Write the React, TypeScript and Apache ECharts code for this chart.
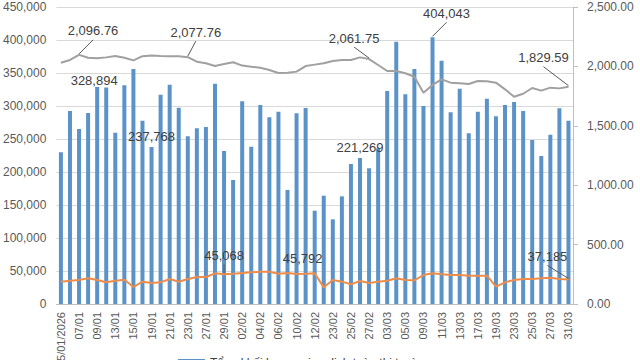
import React, { useEffect, useRef } from "react";
import * as echarts from "echarts";

const dates = [
  "05/01/2026", "06/01", "07/01", "08/01", "09/01", "12/01", "13/01", "14/01", "15/01", "16/01",
  "19/01", "20/01", "21/01", "22/01", "23/01", "26/01", "27/01", "28/01", "29/01", "30/01",
  "02/02", "03/02", "04/02", "05/02", "06/02", "09/02", "10/02", "11/02", "12/02", "13/02",
  "23/02", "24/02", "25/02", "26/02", "27/02", "02/03", "03/03", "04/03", "05/03", "06/03",
  "09/03", "10/03", "11/03", "12/03", "13/03", "16/03", "17/03", "18/03", "19/03", "20/03",
  "23/03", "24/03", "25/03", "26/03", "27/03", "30/03", "31/03",
];

const volume = [
  230000, 292400, 265200, 289400, 328894, 328000, 259600, 331300, 356000, 277800,
  237768, 317200, 332300, 297500, 254000, 266200, 268200, 333800, 231800, 187900,
  307100, 238400, 301500, 282800, 291400, 172700, 288900, 297000, 141400, 164100,
  128300, 163100, 212100, 221269, 205600, 235900, 322700, 397500, 317700, 356100,
  300000, 404043, 368700, 290400, 326300, 258600, 291400, 311100, 284300, 301500,
  306100, 292400, 248500, 224200, 256600, 296500, 277800,
];

const foreign = [
  33800, 35350, 36360, 38900, 36360, 32830, 35350, 36870, 25760, 33800,
  31800, 32830, 37880, 33800, 37880, 40900, 40900, 46450, 45068, 45960,
  46970, 47980, 49000, 49000, 45960, 46970, 45450, 45792, 46460, 25250,
  36360, 33840, 29800, 34850, 31820, 33840, 35350, 38890, 36360, 35860,
  43940, 46460, 44950, 43940, 43940, 42930, 42930, 42930, 26260, 32830,
  36360, 37880, 37880, 38890, 39900, 37880, 37185,
];

const vnIndex = [
  2031, 2054, 2096.76, 2073, 2068, 2076, 2088, 2073, 2051, 2086,
  2092, 2088, 2086, 2086, 2077.76, 2040, 2026, 2003, 2020, 2035,
  2007, 1998, 1989, 1970, 1945, 1947, 1956, 2003, 2015, 2026,
  2046, 2054, 2054, 2076, 2061.75, 2012, 1961, 1961, 1942, 1913,
  1779, 1844, 1891, 1863, 1858, 1852, 1877, 1875, 1863, 1807,
  1745, 1770, 1818, 1796, 1821, 1815, 1829.59,
];

const volumeName = "Tổng khối lượng giao dịch toàn thị trường";
const foreignName = "Khối lượng giao dịch của NĐTNN";
const indexName = "VN-Index";

// plain labels (no leader): index -> [dx, dy]
const volumeLabels: Record<number, [number, number]> = {
  4: [-3, 4],
  10: [0, 0],
  33: [0, 0],
};
const foreignLabels: Record<number, [number, number]> = {
  27: [-3, -4],
};

// labels with leader lines: which series/index, and label-center offset from the point (px)
const leftCallouts: { src: "volume" | "foreign"; i: number; off: [number, number] }[] = [
  { src: "volume", i: 41, off: [14, -24] },
  { src: "foreign", i: 18, off: [0, -19] },
  { src: "foreign", i: 56, off: [-21, -23] },
];
const indexCallouts: { i: number; off: [number, number] }[] = [
  { i: 2, off: [14, -24] },
  { i: 14, off: [8, -25] },
  { i: 34, off: [-15, -21] },
  { i: 56, off: [-25, -29] },
];

const FONT = '"Liberation Sans", Arial, sans-serif';
const fmtInt = (v: number) => Math.round(v).toLocaleString("en-US");
const fmt2 = (v: number) =>
  v.toLocaleString("en-US", { minimumFractionDigits: 2, maximumFractionDigits: 2 });

const labelText = { color: "#404040", fontSize: 13, fontFamily: FONT };

function withLabels(
  values: number[],
  labels: Record<number, [number, number]>,
  fmt: (v: number) => string
) {
  return values.map((v, i) => {
    const l = labels[i];
    if (!l) return v;
    return {
      value: v,
      label: { show: true, position: "top", distance: 4, formatter: () => fmt(v), ...labelText },
    };
  });
}

function layoutFor(labels: Record<number, [number, number]>) {
  return (p: any) => {
    const l = labels[p.dataIndex];
    return l ? { dx: l[0], dy: l[1] } : {};
  };
}

function calloutRenderer(offsets: [number, number][], fmt: (v: number) => string) {
  return (params: any, api: any) => {
    const v = api.value(1);
    const p = api.coord([api.value(0), v]);
    const o = offsets[params.dataIndex];
    const cx = p[0] + o[0];
    const cy = p[1] + o[1];
    return {
      type: "group",
      children: [
        {
          type: "line",
          shape: { x1: cx, y1: cy + 9, x2: p[0], y2: p[1] - 1 },
          style: { stroke: "#595959", lineWidth: 1 },
        },
        {
          type: "text",
          x: cx,
          y: cy,
          style: {
            text: fmt(v),
            fill: "#404040",
            fontSize: 13,
            fontFamily: FONT,
            align: "center",
            verticalAlign: "middle",
          },
        },
      ],
    };
  };
}

export default function App() {
  const ref = useRef<HTMLDivElement>(null);
  useEffect(() => {
    if (!ref.current) return;
    const chart = echarts.init(ref.current, undefined, { renderer: "svg" });
    const leftData = leftCallouts.map((c) => [
      c.i,
      c.src === "volume" ? volume[c.i] : foreign[c.i],
    ]);
    const indexData = indexCallouts.map((c) => [c.i, vnIndex[c.i]]);
    chart.setOption({
      animation: false,
      backgroundColor: "#ffffff",
      textStyle: { fontFamily: FONT },
      grid: { left: 56, right: 67, top: 7, bottom: 76 },
      legend: {
        data: [volumeName],
        left: 173,
        top: 352,
        itemWidth: 27,
        itemHeight: 8,
        icon: "rect",
        textStyle: { fontSize: 12, color: "#404040", fontFamily: FONT },
      },
      xAxis: {
        type: "category",
        data: dates,
        axisLine: { lineStyle: { color: "#BFBFBF" } },
        axisTick: { show: false },
        axisLabel: {
          rotate: 90,
          interval: 1,
          fontSize: 11,
          color: "#595959",
          margin: 8,
          fontFamily: FONT,
        },
      },
      yAxis: [
        {
          type: "value",
          min: 0,
          max: 450000,
          interval: 50000,
          axisLine: { show: false },
          axisTick: { show: false },
          splitLine: { lineStyle: { color: "#D9D9D9" } },
          axisLabel: {
            formatter: (v: number) => fmtInt(v),
            color: "#595959",
            fontSize: 12,
            margin: 10,
            fontFamily: FONT,
          },
        },
        {
          type: "value",
          min: 0,
          max: 2500,
          interval: 500,
          position: "right",
          axisLine: { show: true, lineStyle: { color: "#BFBFBF" } },
          axisTick: { show: true, length: 5, lineStyle: { color: "#BFBFBF" } },
          splitLine: { show: false },
          axisLabel: {
            formatter: (v: number) => fmt2(v),
            color: "#595959",
            fontSize: 12,
            margin: 14,
            fontFamily: FONT,
          },
        },
      ],
      series: [
        {
          name: volumeName,
          type: "bar",
          yAxisIndex: 0,
          barWidth: 4,
          itemStyle: { color: "#5B93C8" },
          data: withLabels(volume, volumeLabels, fmtInt),
          labelLayout: layoutFor(volumeLabels),
        },
        {
          name: foreignName,
          type: "line",
          yAxisIndex: 0,
          showSymbol: true,
          showAllSymbol: true,
          symbol: "circle",
          symbolSize: 1,
          itemStyle: { color: "#EE8D4A" },
          lineStyle: { color: "#EE8D4A", width: 2 },
          data: withLabels(foreign, foreignLabels, fmtInt),
          labelLayout: layoutFor(foreignLabels),
          z: 3,
        },
        {
          name: indexName,
          type: "line",
          yAxisIndex: 1,
          showSymbol: false,
          itemStyle: { color: "#A0A0A0" },
          lineStyle: { color: "#A0A0A0", width: 2 },
          data: vnIndex,
          z: 4,
        },
        {
          type: "custom",
          name: "callouts-left",
          yAxisIndex: 0,
          silent: true,
          z: 6,
          data: leftData,
          renderItem: calloutRenderer(
            leftCallouts.map((c) => c.off),
            fmtInt
          ),
        },
        {
          type: "custom",
          name: "callouts-index",
          yAxisIndex: 1,
          silent: true,
          z: 6,
          data: indexData,
          renderItem: calloutRenderer(
            indexCallouts.map((c) => c.off),
            fmt2
          ),
        },
      ],
    });
    return () => chart.dispose();
  }, []);
  return (
    <div
      ref={ref}
      style={{ position: "fixed", left: 0, top: 0, width: 640, height: 380, background: "#fff" }}
    />
  );
}
